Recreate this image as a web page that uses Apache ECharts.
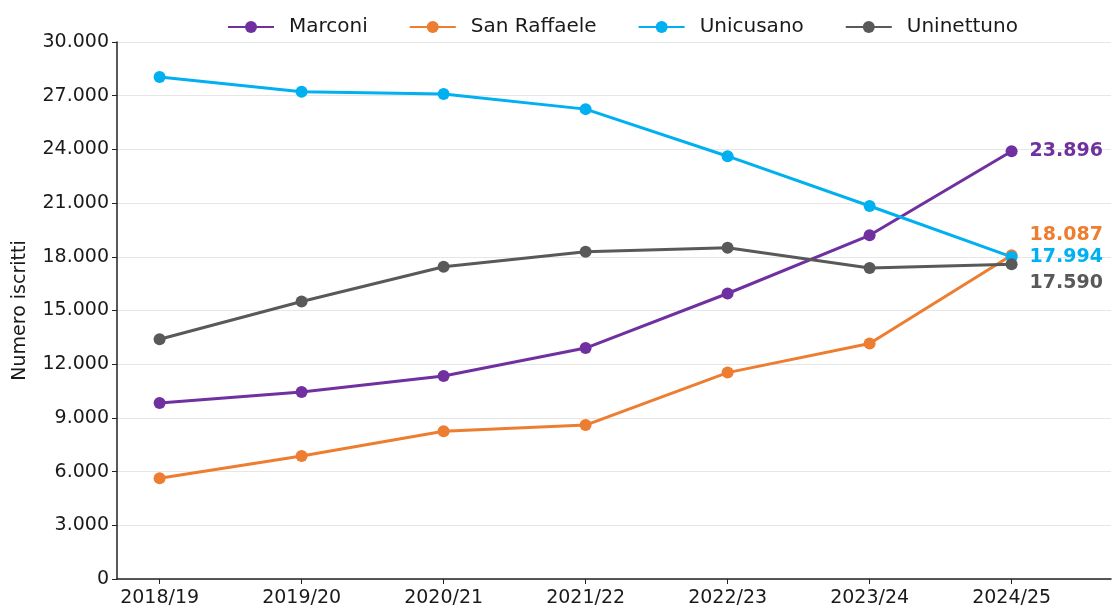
<!DOCTYPE html>
<html>
<head>
<meta charset="utf-8">
<title>Numero iscritti</title>
<style>
  html, body { margin: 0; padding: 0; background: #fff; }
  #main { width: 1113px; height: 608px; }
</style>
</head>
<body>
<div id="main"></div>
<script src="https://cdn.jsdelivr.net/npm/echarts@6/dist/echarts.min.js"></script>
<script type="text/javascript">
    // dati
    var years = ['2018/19', '2019/20', '2020/21', '2021/22', '2022/23', '2023/24', '2024/25'];
    var marconi = [9830, 10450, 11340, 12900, 15950, 19200, 23896];
    var sanRaffaele = [5630, 6870, 8250, 8600, 11530, 13160, 18087];
    var unicusano = [28050, 27220, 27100, 26250, 23620, 20840, 17994];
    var uninettuno = [13390, 15500, 17440, 18280, 18500, 17380, 17590];
    var yTicks = [0, 3000, 6000, 9000, 12000, 15000, 18000, 21000, 24000, 27000, 30000];

    var font = 'DejaVu Sans';

    function fmt(v) {
        return String(v).replace(/\B(?=(\d{3})+(?!\d))/g, '.');
    }

    // serie con etichetta solo sull'ultimo punto
    function makeSeries(name, values, color, labelDy) {
        var data = values.map(function (v, i) {
            var item = { value: [i, v] };
            if (i === values.length - 1) {
                item.label = {
                    show: true,
                    position: 'right',
                    distance: 12,
                    offset: [0, labelDy],
                    formatter: function (p) { return fmt(p.value[1]); },
                    color: color,
                    fontFamily: font,
                    fontSize: 19,
                    fontWeight: 'bold'
                };
            }
            return item;
        });
        return {
            name: name,
            type: 'line',
            data: data,
            symbol: 'circle',
            symbolSize: 12,
            lineStyle: { color: color, width: 3 },
            itemStyle: { color: color },
            emphasis: { disabled: true },
            animation: false
        };
    }

    var tickPos = years.map(function (y, i) { return i; });

    var myChart = echarts.init(document.getElementById('main'));
    var option = {
        backgroundColor: '#ffffff',
        legend: {
            left: 222,
            top: 12,
            itemWidth: 46,
            itemHeight: 15,
            itemGap: 41,
            textStyle: { fontFamily: font, fontSize: 20, color: '#1a1a1a', padding: [0, 0, 0, 10] },
            data: ['Marconi', 'San Raffaele', 'Unicusano', 'Uninettuno']
        },
        grid: { left: 117, right: 2, top: 42, bottom: 28, containLabel: false },
        xAxis: {
            type: 'value',
            min: -0.3,
            max: 6.7,
            axisLine: { show: true, onZero: false, lineStyle: { color: '#222', width: 1.5 } },
            axisTick: { show: true, length: 5, customValues: tickPos, lineStyle: { color: '#222' } },
            axisLabel: {
                customValues: tickPos,
                formatter: function (v) { return years[Math.round(v)]; },
                fontFamily: font, fontSize: 19, color: '#1a1a1a', margin: 10
            },
            splitLine: { show: false }
        },
        yAxis: {
            type: 'value',
            min: 0,
            max: 30000,
            interval: 3000,
            name: 'Numero iscritti',
            nameLocation: 'middle',
            nameGap: 87,
            nameTextStyle: { fontFamily: font, fontSize: 19, color: '#1a1a1a' },
            axisLine: { show: true, onZero: false, lineStyle: { color: '#222', width: 1.5 } },
            axisTick: { show: true, length: 5, lineStyle: { color: '#222' } },
            axisLabel: {
                formatter: function (v) { return yTicks.indexOf(v) >= 0 ? fmt(v) : ''; },
                fontFamily: font, fontSize: 19, color: '#1a1a1a', margin: 8
            },
            splitLine: { show: true, lineStyle: { color: '#e6e6e6', width: 1 } }
        },
        series: [
            makeSeries('Marconi', marconi, '#7030a0', 0),
            makeSeries('San Raffaele', sanRaffaele, '#ed7d31', -20),
            makeSeries('Unicusano', unicusano, '#00b0f0', 0),
            makeSeries('Uninettuno', uninettuno, '#595959', 19)
        ]
    };
    myChart.setOption(option);
</script>
</body>
</html>
